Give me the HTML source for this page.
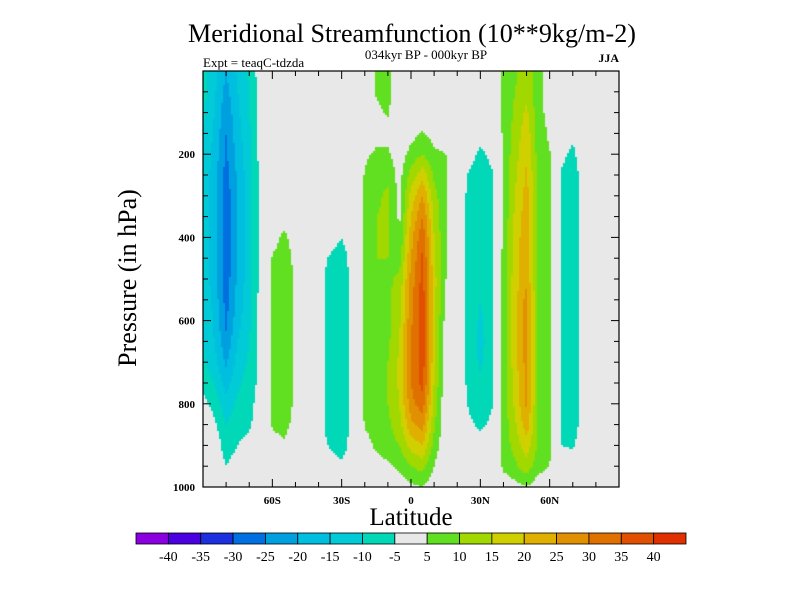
<!DOCTYPE html>
<html><head><meta charset="utf-8">
<style>
body{margin:0;background:#fff;width:800px;height:600px;overflow:hidden;position:relative;font-family:"Liberation Serif",serif;}
svg{position:absolute;left:0;top:0}
canvas{position:absolute;left:203px;top:71px}
</style></head>
<body>
<canvas id="cv" width="416" height="416"></canvas>
<svg id="sv" width="800" height="600">
<text x="412" y="42" font-size="26" text-anchor="middle" textLength="448" lengthAdjust="spacingAndGlyphs">Meridional Streamfunction (10**9kg/m-2)</text>
<text x="426" y="59" font-size="13" text-anchor="middle">034kyr BP - 000kyr BP</text>
<text x="203" y="67" font-size="13">Expt = teaqC-tdzda</text>
<text x="619" y="62" font-size="12" font-weight="bold" text-anchor="end">JJA</text>
<text transform="translate(136,278) rotate(-90)" font-size="26" text-anchor="middle">Pressure (in hPa)</text>
<text x="411" y="525" font-size="25" text-anchor="middle">Latitude</text>
<g id="axes"></g>
<g id="cbar"></g>
</svg>
<script>
const lats=[-90,-85,-80,-75,-70,-65,-60,-55,-50,-45,-40,-35,-30,-25,-20,-15,-10,-5,0,5,10,15,20,25,30,35,40,45,50,55,60,65,70,75,80,85,90];
const pres=[0,50,100,150,200,250,300,350,400,450,500,550,600,650,700,750,800,850,900,950,1000];
const levels=[-40,-35,-30,-25,-20,-15,-10,-5,5,10,15,20,25,30,35,40];
const colors=["#8a00e0","#4a00e0","#1c30e0","#0070e0","#00a0e0","#00bee0","#00cbd6","#00d8b8","#e8e8e8","#60e020","#a0d800","#d0d000","#e0b000","#e09000","#e07000","#e05000","#e03000"];
const field=[
[-8,-8,-9,-10,-10,-11,-11,-11,-11,-11,-11,-10,-10,-10,-9,-7,-3,0,0,0,0],
[-13,-14,-15,-16,-17,-18,-18,-18,-18,-18,-18,-17,-16,-15,-13,-10,-7,-4,-1,0,0],
[-20,-22,-24,-25,-26,-27,-28,-28,-28,-28,-28,-27,-26,-24,-21,-17,-13,-10,-8,-5,0],
[-14,-15,-16,-17,-18,-19,-20,-20,-20,-20,-19,-18,-17,-15,-13,-11,-9,-7,-5,-2,0],
[-9,-10,-10,-11,-11,-12,-12,-12,-12,-12,-12,-11,-11,-10,-9,-8,-7,-6,-3,0,0],
[-2,-2,-2,-3,-3,-3,-3,-3,-3,-3,-3,-3,-3,-3,-3,-3,-2,-1,0,0,0],
[0,0,0,0,0,0,0,1,3,5.5,6.5,7,7,7,7,7,6.5,5.5,3,0,0],
[0,0,0,0,0,1,2,3,6,7,8,8,8,8,8,8,8,7,4,1,0],
[0,0,0,0,0,0,1,2,3,4,4,4,4,4,4,4,4,3,2,0,0],
[0,0,0,0,0,0,0,0,0,0,0,0,0,0,0,0,0,0,0,0,0],
[0,0,0,0,0,0,0,-1,-2,-3,-3,-3,-3,-3,-3,-3,-3,-3,-3,-2,0],
[-1,-1,-1,-1,-1,-2,-2,-2,-3,-5.5,-7,-7,-7,-7,-7,-7,-7,-7,-5.5,-3,0],
[-1,-1,-1,-1,-1,-2,-2,-3,-5,-7,-8,-8,-8,-8,-8,-8,-8,-8,-7,-4,0],
[0,0,0,0,0,-1,-1,-2,-2,-3,-3,-3,-3,-3,-3,-3,-3,-3,-3,-2,0],
[0,0,0,1,4,5.5,6,6,6,6,6,6,6,6,6,6,6,5.5,3,1,0],
[5.5,5.5,4,3,6,8,9,10,10,10,9,9,9,8,8,8,8,7,6,3,0],
[7,7,5.5,3,6,9,11,11,11,10,9,9,8,9,10,10,10,9,8,4,0],
[0,0,0,0,2,3,3,4,5,8,11,13,14,15,16,16,15,13,10,6,2],
[0,0,1,3,7,12,17,20,23,25,27,28,29,30,30,30,28,24,17,10,4],
[0,0,2,5.5,10,18,25,30,34,36,37,38,38,38,38,37,33,27,20,12,5],
[0,0,1,3,6,9,12,14,15,16,17,17,17,17,16,15,13,11,8,5,2],
[0,0,0,1,5.2,5.5,5.5,5.5,5.5,5.5,5.2,4,3,2,2,1,1,1,1,0,0],
[0,0,0,0,-1,-2,-2,-2,-2,-2,-2,-2,-2,-2,-2,-2,-2,-2,-1,0,0],
[0,0,-1,-2,-3,-5.5,-6,-6,-6,-6,-6,-6,-6,-6,-6,-6,-5.5,-4,-2,0,0],
[-1,-1,-2,-3,-6,-7,-8,-8,-8,-8,-9,-10,-11,-12,-11,-9,-8,-6,-3,-1,0],
[0,0,-1,-2,-4,-5.5,-6,-6,-6,-6,-6,-6,-6,-6,-6,-6,-5.5,-4,-2,0,0],
[6,6,6,6,6,6,6,6,6,7,7,7,7,7,7,7,7,7,7,6,2],
[9,10,11,12,13,14,15,16,17,17,18,18,18,18,18,17,16,14,12,9,3],
[13,14,16,18,19,21,22,23,24,24,24,27,27,27,27,27,26,23,18,13,5],
[7,7,7,8,8,9,9,9,9,9,9,9,9,9,9,9,9,9,9,7,2],
[3,3,3,4,5.5,6,6,6,6,6,6,6,6,6,6,6,6,6,6,5,1],
[0,0,0,-2,-4,-5.5,-6,-6,-6,-6,-6,-6,-6,-6,-6,-6,-6,-6,-5,-2,0],
[-1,-1,-2,-4,-6,-7,-7,-7,-7,-7,-7,-7,-7,-7,-7,-7,-7,-7,-5.5,-3,0],
[0,0,0,-1,-2,-3,-3,-3,-3,-3,-3,-3,-3,-3,-3,-3,-3,-3,-2,-1,0],
[0,0,0,0,0,0,0,0,0,0,0,0,0,0,0,0,0,0,0,0,0],
[0,0,0,0,0,0,0,0,0,0,0,0,0,0,0,0,0,0,0,0,0],
[0,0,0,0,0,0,0,0,0,0,0,0,0,0,0,0,0,0,0,0,0]];
const xTicks=[-60,-30,0,30,60];
const xTickLabels=["60S","30S","0","30N","60N"];
const yTicks=[200,400,600,800,1000];

const X0=203,X1=619,Y0=71,Y1=487;
const xs=lat=>X0+(lat+90)/180*(X1-X0);
const ys=p=>Y0+p/1000*(Y1-Y0);
const NS="http://www.w3.org/2000/svg";
function mk(tag,attrs,parent){const e=document.createElementNS(NS,tag);for(const k in attrs)e.setAttribute(k,attrs[k]);parent.appendChild(e);return e;}
function colorFor(v){let i=0;while(i<levels.length&&v>=levels[i])i++;return colors[i];}
function sample(lat,p){
  const fi=(lat-lats[0])/(lats[1]-lats[0]);const fj=(p-pres[0])/(pres[1]-pres[0]);
  const i=Math.max(0,Math.min(lats.length-2,Math.floor(fi))),j=Math.max(0,Math.min(pres.length-2,Math.floor(fj)));
  const a=fi-i,b=fj-j;
  return (1-a)*(1-b)*field[i][j]+a*(1-b)*field[i+1][j]+(1-a)*b*field[i][j+1]+a*b*field[i+1][j+1];
}
const cv=document.getElementById('cv');const ctx=cv.getContext('2d');
const step=2;
for(let px=0;px<416;px+=step){for(let py=0;py<416;py+=step){
  const lat=-90+(px+step/2)/416*180,p=(py+step/2)/416*1000;
  ctx.fillStyle=colorFor(sample(lat,p));ctx.fillRect(px,py,step,step);
}}
const ax=document.getElementById('axes');
const frame=mk('rect',{x:X0,y:Y0,width:X1-X0,height:Y1-Y0,fill:'none',stroke:'#000','stroke-width':1.2},ax);


for(let lat=-80;lat<=80;lat+=10){
  const major=xTicks.indexOf(lat)>=0,L=major?8:5,x=xs(lat);
  const t1=mk('line',{x1:x,x2:x,y1:Y1,y2:Y1-L,stroke:'#000'},ax);
  
  
  const t2=mk('line',{x1:x,x2:x,y1:Y0,y2:Y0+L,stroke:'#000'},ax);
  
  
}
xTicks.forEach((v,k)=>{const t=mk('text',{x:xs(v),y:Y1+17,'font-size':11,'font-weight':'bold','text-anchor':'middle'},ax);t.textContent=xTickLabels[k];
  
  });
for(let p=50;p<1000;p+=50){
  const major=yTicks.indexOf(p)>=0,L=major?8:5,y=ys(p);
  const t1=mk('line',{x1:X0,x2:X0+L,y1:y,y2:y,stroke:'#000'},ax);
  
  
  const t2=mk('line',{x1:X1,x2:X1-L,y1:y,y2:y,stroke:'#000'},ax);
  
  
}
yTicks.forEach(v=>{const t=mk('text',{x:X0-8,y:ys(v)+4,'font-size':11,'font-weight':'bold','text-anchor':'end'},ax);t.textContent=String(v);
  
  });
const cb=document.getElementById('cbar');
const CX0=136,CX1=686,CY=533,CH=11,bw=(CX1-CX0)/colors.length;
colors.forEach((c,k)=>{const r=mk('rect',{x:CX0+k*bw,y:CY,width:bw,height:CH,fill:c,stroke:'#000','stroke-width':0.8},cb);
  
  });
levels.forEach((v,k)=>{const t=mk('text',{x:CX0+(k+1)*bw,y:CY+28,'font-size':14,'text-anchor':'middle'},cb);t.textContent=String(v);
  
  });
</script>
</body></html>
